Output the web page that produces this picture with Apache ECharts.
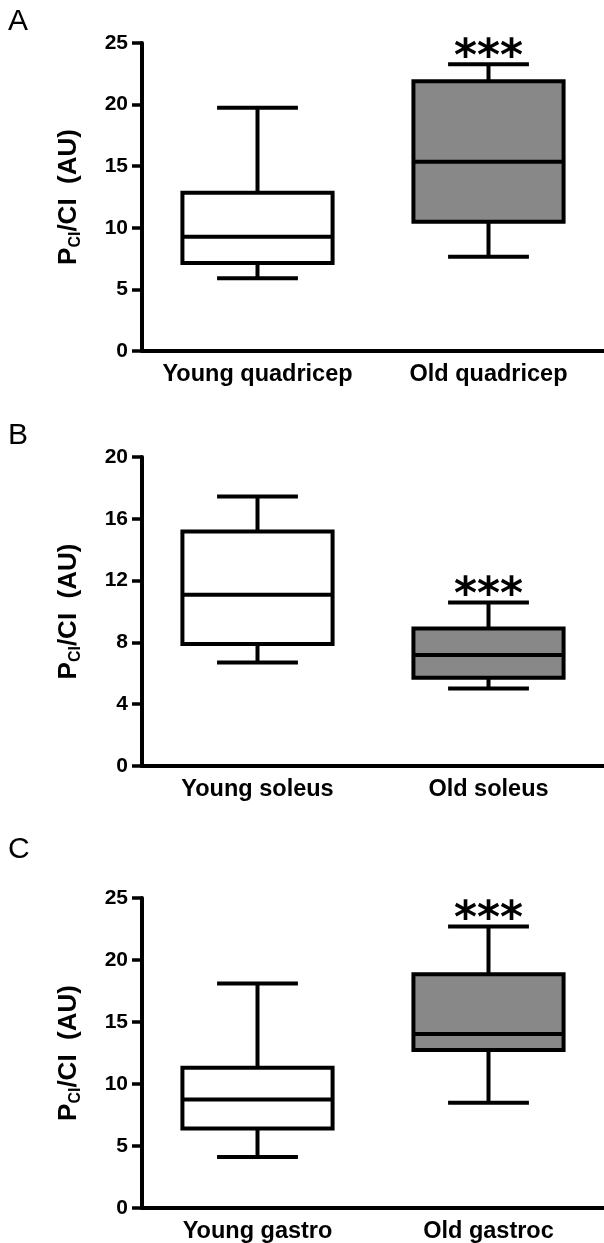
<!DOCTYPE html>
<html>
<head>
<meta charset="utf-8">
<script src="https://cdn.jsdelivr.net/npm/echarts@6/dist/echarts.min.js"></script>
<style>
  html, body { margin: 0; padding: 0; background: #fff; }
  #main { width: 604px; height: 1243px; }
</style>
</head>
<body>
<div id="main"></div>
<script>
// values: [min, Q1, median, Q3, max]
var catsA = ['Young quadricep', 'Old quadricep'];
var boxA = [[5.9, 7.15, 9.28, 12.85, 19.75], [7.65, 10.5, 15.37, 21.9, 23.27]];
var starA = 24.4;

var catsB = ['Young soleus', 'Old soleus'];
var boxB = [[6.7, 7.89, 11.08, 15.18, 17.45], [5.01, 5.72, 7.19, 8.9, 10.58]];
var starB = 11.5;

var catsC = ['Young gastro', 'Old gastroc'];
var boxC = [[4.12, 6.41, 8.75, 11.31, 18.1], [8.48, 12.74, 14.03, 18.85, 22.7]];
var starC = 23.8;

var yMax = [25, 20, 25];
var yStep = [5, 4, 5];

var FONT = '"Liberation Sans", Arial, sans-serif';
var fills = ['#ffffff', '#888888'];

var chart = echarts.init(document.getElementById('main'));

// box with short whisker caps
function renderBox(params, api) {
  var i = api.value(0);
  var lo = api.coord([i, api.value(1)]);
  var q1 = api.coord([i, api.value(2)]);
  var med = api.coord([i, api.value(3)]);
  var q3 = api.coord([i, api.value(4)]);
  var hi = api.coord([i, api.value(5)]);
  var band = api.size([1, 0])[0];
  var bw = band * 0.65, cw = band * 0.35;
  var cx = lo[0];
  var ln = { stroke: '#000', lineWidth: 4 };
  function line(x1, y1, x2, y2) {
    return { type: 'line', shape: { x1: x1, y1: y1, x2: x2, y2: y2 }, style: ln };
  }
  return {
    type: 'group',
    children: [
      line(cx, q3[1], cx, hi[1]),
      line(cx, q1[1], cx, lo[1]),
      line(cx - cw / 2, hi[1], cx + cw / 2, hi[1]),
      line(cx - cw / 2, lo[1], cx + cw / 2, lo[1]),
      {
        type: 'rect',
        shape: { x: cx - bw / 2, y: q3[1], width: bw, height: q1[1] - q3[1] },
        style: { fill: fills[params.dataIndex], stroke: '#000', lineWidth: 4 }
      },
      line(cx - bw / 2, med[1], cx + bw / 2, med[1])
    ]
  };
}

// asterisks sit high in the glyph box, so nudge the text down
function renderStars(params, api) {
  var p = api.coord([api.value(0), api.value(1)]);
  return {
    type: 'text',
    x: p[0], y: p[1] + 8,
    style: {
      text: '***', fill: '#000', align: 'center', verticalAlign: 'middle',
      font: 'bold 44px "DejaVu Sans"'
    }
  };
}

var grids = [
  { left: 142, right: 0, top: 43, bottom: 892 },
  { left: 142, right: 0, top: 457, bottom: 477 },
  { left: 142, right: 0, top: 898, bottom: 35 }
];
var cats = [catsA, catsB, catsC];
var boxes = [boxA, boxB, boxC];
var stars = [starA, starB, starC];

var xAxes = [], yAxes = [], series = [];
for (var k = 0; k < 3; k++) {
  grids[k].outerBoundsMode = 'none';
  xAxes.push({
    gridIndex: k, type: 'category', data: cats[k],
    axisLine: { lineStyle: { color: '#000', width: 4 } },
    axisTick: { show: false },
    axisLabel: { color: '#000', fontSize: 23.5, fontWeight: 'bold', fontFamily: FONT, margin: 12, interval: 0 }
  });
  yAxes.push({
    gridIndex: k, type: 'value', min: 0, max: yMax[k], interval: yStep[k],
    axisLine: { show: true, lineStyle: { color: '#000', width: 4 } },
    axisTick: { show: true, length: 10, lineStyle: { color: '#000', width: 3.5 } },
    splitLine: { show: false },
    axisLabel: { color: '#000', fontSize: 21, fontWeight: 'bold', fontFamily: FONT, margin: 14 },
    name: '{p|P}{s|CI}{p|/CI  (AU)}',
    nameLocation: 'middle', nameGap: 58,
    nameTextStyle: {
      rich: {
        p: { fontSize: 26, fontWeight: 'bold', fontFamily: FONT, color: '#000', lineHeight: 30 },
        s: { fontSize: 16, fontWeight: 'bold', fontFamily: FONT, color: '#000', lineHeight: 16, verticalAlign: 'bottom' }
      }
    }
  });
  series.push({
    type: 'custom', xAxisIndex: k, yAxisIndex: k, silent: true,
    renderItem: renderBox,
    encode: { x: 0, y: [1, 2, 3, 4, 5] },
    data: boxes[k].map(function (b, i) { return [i].concat(b); })
  });
  series.push({
    type: 'custom', xAxisIndex: k, yAxisIndex: k, silent: true,
    renderItem: renderStars,
    encode: { x: 0, y: 1 },
    data: [[1, stars[k]]]
  });
}

var titleStyle = { fontSize: 30, fontWeight: 'normal', fontFamily: FONT, color: '#000' };
chart.setOption({
  animation: false,
  title: [
    { text: 'A', left: 8, top: 7, padding: 0, textStyle: titleStyle },
    { text: 'B', left: 8, top: 421, padding: 0, textStyle: titleStyle },
    { text: 'C', left: 8, top: 835, padding: 0, textStyle: titleStyle }
  ],
  grid: grids,
  xAxis: xAxes,
  yAxis: yAxes,
  series: series
});
</script>
</body>
</html>
